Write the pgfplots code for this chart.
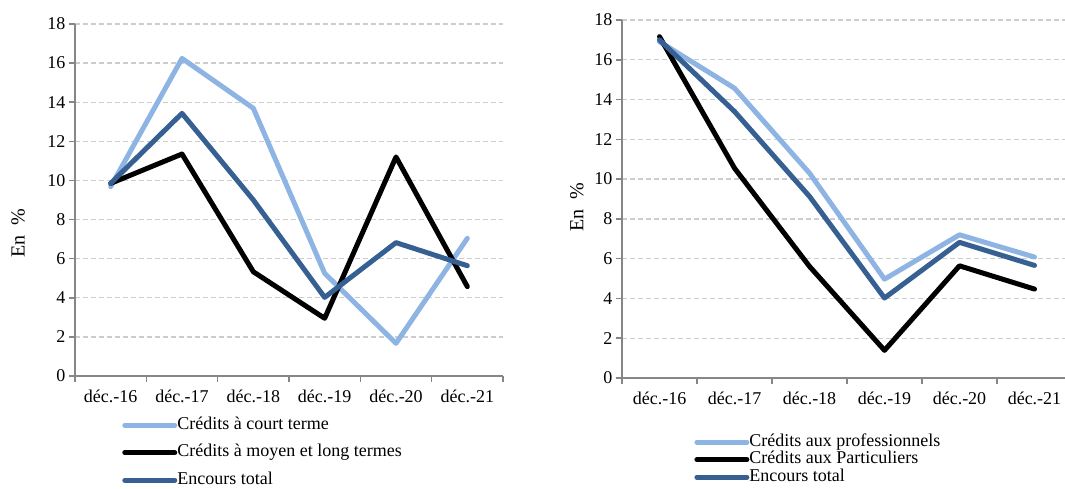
\documentclass[border=0pt]{standalone}
\usepackage{fontspec}
\setmainfont{Liberation Serif}
\usepackage{pgfplots}
\pgfplotsset{compat=1.18}
\definecolor{lblue}{RGB}{142,180,227}
\definecolor{dblue}{RGB}{55,96,146}
\definecolor{axgray}{RGB}{134,134,134}
\definecolor{grgray}{RGB}{205,205,205}
\pgfplotsset{mystyle/.style={
  scale only axis,
  ymin=0, ymax=18, ytick={0,2,...,18},
  xmin=0,
  axis x line*=bottom, axis y line*=left,
  axis line style={axgray, line width=1.5bp},
  tick align=outside, major tick length=6bp,
  every tick/.style={axgray, line width=1.5bp},
  ymajorgrids, grid style={grgray, dash pattern=on 5bp off 3bp, line width=1.3bp},
  xtick={0,...,6}, xticklabels={},
  extra x ticks={0.5,1.5,2.5,3.5,4.5,5.5},
  extra x tick labels={déc.-16,déc.-17,déc.-18,déc.-19,déc.-20,déc.-21},
  extra x tick style={major tick length=0pt, grid=none},
  xticklabel style={yshift=-10bp},
  tick label style={font=\fontsize{18bp}{21bp}\selectfont, black},
  /pgf/number format/assume math mode=true,
  ylabel={En\ \ \%},
  ylabel style={font=\fontsize{20bp}{23bp}\selectfont, rotate=0},
  legend cell align=left,
  legend style={draw=none, fill=none, inner sep=0pt, column sep=0pt, font=\fontsize{18bp}{21bp}\selectfont,
     nodes={inner sep=0pt, text height=12bp, text depth=4bp}},
  legend image code/.code={\draw[##1, line width=5bp, line cap=round] (2.5bp,0bp) -- (52.5bp,0bp);},
  every axis plot/.append style={line width=5bp, line join=round, line cap=round},
}}
\begin{document}
\begin{tikzpicture}[x=1bp,y=1bp]
\path[use as bounding box] (0,0) rectangle (1065,489);
\begin{axis}[mystyle, at={(75bp,113bp)}, anchor=south west,
  width=428bp, height=352bp, xmax=6,
  ylabel style={at={(axis description cs:-0.133,0.406)}, anchor=center},
  legend style={at={(axis description cs:0.110,-0.1165)}, anchor=north west, row sep=11.5bp}]
\addplot[lblue] coordinates {(0.5,9.68) (1.5,16.24) (2.5,13.69) (3.5,5.25) (4.5,1.67) (5.5,7.04)};
\addlegendentry{Crédits à court terme}
\addplot[black] coordinates {(0.5,9.85) (1.5,11.35) (2.5,5.33) (3.5,2.95) (4.5,11.2) (5.5,4.57)};
\addlegendentry{Crédits à moyen et long termes}
\addplot[dblue] coordinates {(0.5,9.85) (1.5,13.43) (2.5,9.0) (3.5,4.02) (4.5,6.82) (5.5,5.64)};
\addlegendentry{Encours total}
\end{axis}
\begin{axis}[mystyle, at={(622bp,111bp)}, anchor=south west,
  width=443bp, height=358bp, xmax=5.907,
  ylabel style={at={(axis description cs:-0.102,0.478)}, anchor=center},
  legend style={at={(axis description cs:0.163,-0.1564)}, anchor=north west, row sep=1.5bp}]
\addplot[lblue] coordinates {(0.5,16.91) (1.5,14.57) (2.5,10.3) (3.5,4.97) (4.5,7.2) (5.5,6.08)};
\addlegendentry{Crédits aux professionnels}
\addplot[black] coordinates {(0.5,17.16) (1.5,10.55) (2.5,5.61) (3.5,1.39) (4.5,5.64) (5.5,4.47)};
\addlegendentry{Crédits aux Particuliers}
\addplot[dblue] coordinates {(0.5,17.0) (1.5,13.4) (2.5,9.13) (3.5,4.02) (4.5,6.82) (5.5,5.66)};
\addlegendentry{Encours total}
\end{axis}
\end{tikzpicture}
\end{document}
